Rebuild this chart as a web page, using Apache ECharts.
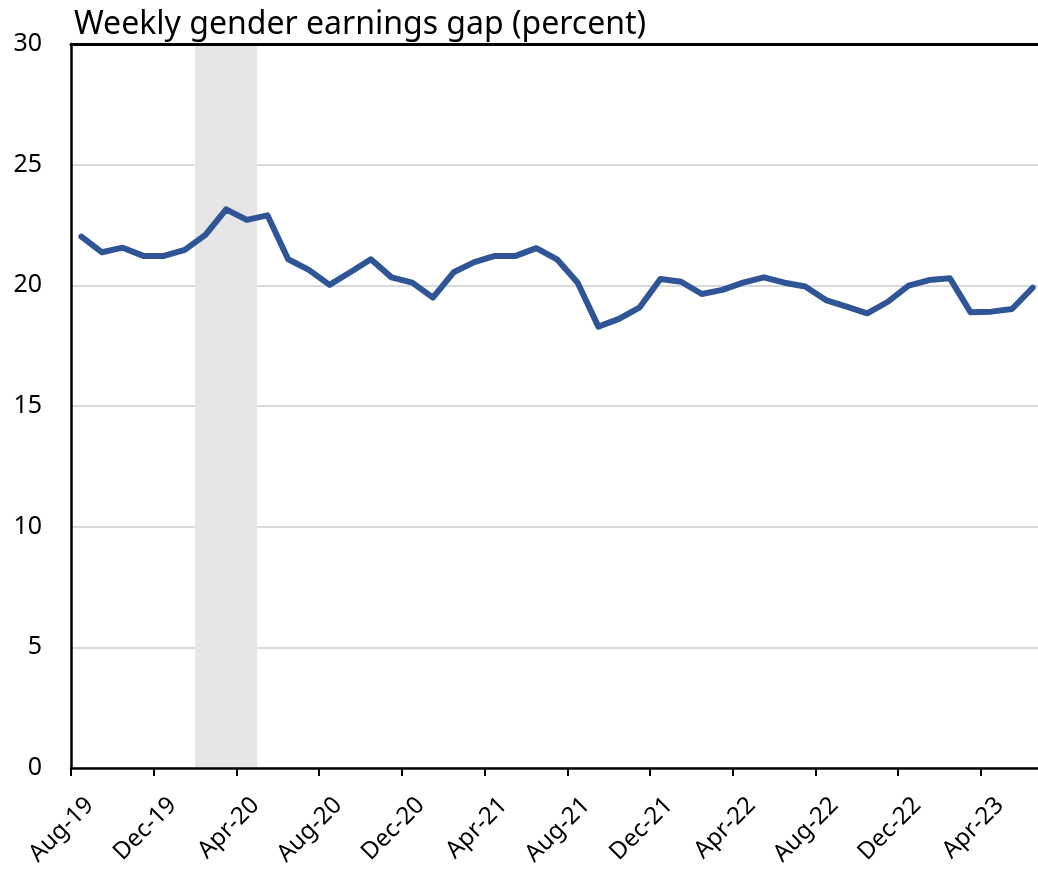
<!DOCTYPE html>
<html>
<head>
<meta charset="utf-8">
<script src="https://cdn.jsdelivr.net/npm/echarts@6/dist/echarts.min.js"></script>
<style>
html,body{margin:0;padding:0;background:#fff;}
#chart{width:1038px;height:869px;}
</style>
</head>
<body>
<div id="chart"></div>
<script>
var months = ['Aug-19','Sep-19','Oct-19','Nov-19','Dec-19','Jan-20','Feb-20','Mar-20','Apr-20','May-20','Jun-20','Jul-20',
  'Aug-20','Sep-20','Oct-20','Nov-20','Dec-20','Jan-21','Feb-21','Mar-21','Apr-21','May-21','Jun-21','Jul-21',
  'Aug-21','Sep-21','Oct-21','Nov-21','Dec-21','Jan-22','Feb-22','Mar-22','Apr-22','May-22','Jun-22','Jul-22',
  'Aug-22','Sep-22','Oct-22','Nov-22','Dec-22','Jan-23','Feb-23','Mar-23','Apr-23','May-23','Jun-23'];
var gapPct = [22.02,21.37,21.56,21.22,21.22,21.47,22.09,23.15,22.71,22.90,21.08,20.64,
  20.02,20.54,21.08,20.33,20.11,19.49,20.54,20.96,21.22,21.22,21.54,21.08,
  20.11,18.29,18.61,19.09,20.26,20.15,19.64,19.81,20.11,20.33,20.11,19.95,
  19.39,19.12,18.84,19.32,19.99,20.22,20.29,18.88,18.91,19.02,19.90];
var recessionStart = 'Feb-20';
var recessionEnd = 'Apr-20';
var yTicks = [0,5,10,15,20,25,30];
var titleText = 'Weekly gender earnings gap (percent)';

var yMax = yTicks[yTicks.length-1];
var shadeFrom = months.indexOf(recessionStart);
var shadeTo = months.indexOf(recessionEnd) + 1;
var FONT = 'Noto Sans';

var chart = echarts.init(document.getElementById('chart'), null, {renderer:'canvas'});
chart.setOption({
  animation:false,
  backgroundColor:'#ffffff',
  title:{
    text:titleText, left:69, top:4,
    textStyle:{fontFamily:FONT, fontSize:32, fontWeight:'normal', color:'#000'}
  },
  grid:{left:71, top:44, width:972, height:724, containLabel:false, outerBoundsMode:'none'},
  xAxis:[{
    type:'category', data:months, boundaryGap:true, position:'bottom', z:10,
    axisLine:{show:true, lineStyle:{color:'#000', width:2.5}},
    axisTick:{show:true, interval:3, alignWithLabel:false, length:8, lineStyle:{color:'#000', width:2}},
    axisLabel:{interval:3, rotate:45, margin:25, align:'right', verticalAlign:'top',
      fontFamily:FONT, fontSize:24, color:'#000'},
    splitLine:{show:false}
  },{
    type:'value', min:0, max:months.length, position:'top', z:10,
    axisLine:{show:true, onZero:false, lineStyle:{color:'#000', width:3}},
    axisTick:{show:false}, axisLabel:{show:false}, splitLine:{show:false}
  }],
  yAxis:{
    type:'value', min:0, max:yMax, interval:5,
    axisLine:{show:true, lineStyle:{color:'#000', width:2.5}},
    axisTick:{show:false},
    axisLabel:{margin:29, fontFamily:FONT, fontSize:25, color:'#000'},
    splitLine:{show:true, lineStyle:{color:'#d9d9d9', width:2}}
  },
  series:[{
    type:'line', xAxisIndex:1, data:[], silent:true, symbol:'none',
    markArea:{
      silent:true,
      itemStyle:{color:'#e6e6e6'},
      data:[[{xAxis:shadeFrom, yAxis:0},{xAxis:shadeTo, yAxis:yMax}]]
    }
  },{
    type:'line', xAxisIndex:0, data:gapPct, showSymbol:false, symbol:'none', smooth:false,
    lineStyle:{color:'#2f5597', width:6, join:'round', cap:'round'}
  }]
});
</script>
</body>
</html>
